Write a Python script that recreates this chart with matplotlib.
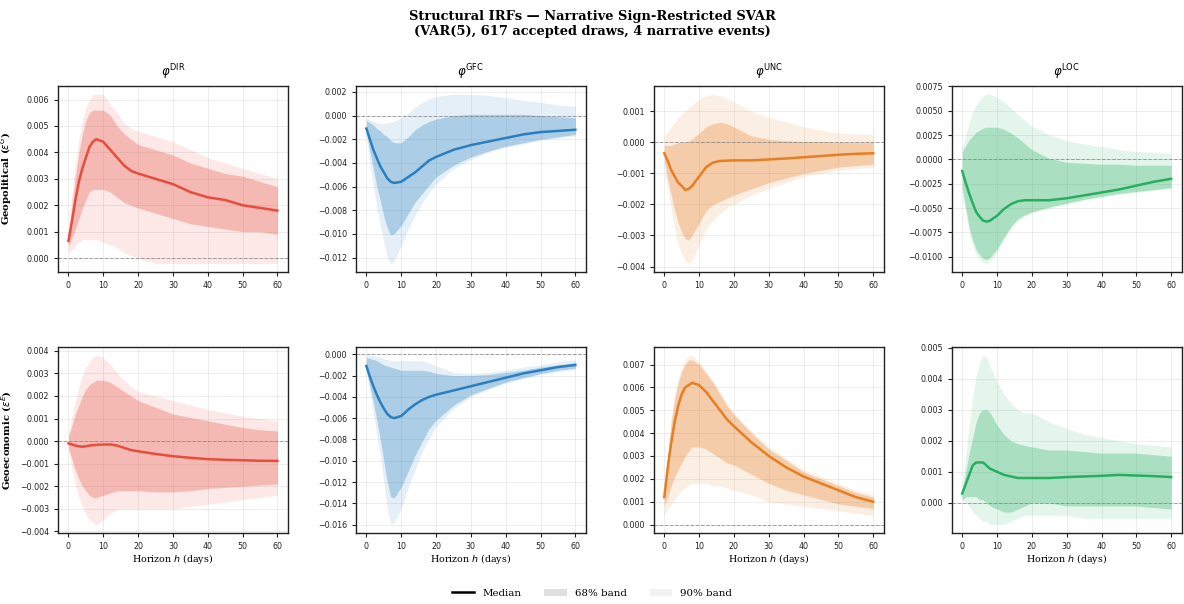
import numpy as np
import matplotlib
matplotlib.use("Agg")
import matplotlib.pyplot as plt
from matplotlib.lines import Line2D
from matplotlib.patches import Patch

H = [0, 1, 2, 3, 4, 5, 6, 7, 8, 10, 12, 14, 16, 18, 20, 25, 30, 35, 40, 45, 50, 55, 60]

# --- Geopolitical shock ---
geo_dir_med = [0.00065, 0.0014, 0.0022, 0.0029, 0.0034, 0.0038, 0.0042, 0.0044, 0.0045, 0.0044, 0.0041, 0.0038, 0.0035, 0.0033, 0.0032, 0.0030, 0.0028, 0.0025, 0.0023, 0.0022, 0.0020, 0.0019, 0.0018]
geo_dir_hi68 = [0.0008, 0.0020, 0.0031, 0.0040, 0.0047, 0.0052, 0.0055, 0.0056, 0.0056, 0.0056, 0.0054, 0.0050, 0.0047, 0.0045, 0.0043, 0.0041, 0.0039, 0.0036, 0.0034, 0.0032, 0.0031, 0.0029, 0.0027]
geo_dir_lo68 = [0.0004, 0.0008, 0.0011, 0.0015, 0.0019, 0.0022, 0.0025, 0.0026, 0.0026, 0.0026, 0.0025, 0.0023, 0.0021, 0.0020, 0.0019, 0.0017, 0.0015, 0.0013, 0.0012, 0.0011, 0.0010, 0.0010, 0.0009]
geo_dir_hi90 = [0.0011, 0.0024, 0.0036, 0.0045, 0.0052, 0.0057, 0.0060, 0.0062, 0.0062, 0.0062, 0.0058, 0.0055, 0.0051, 0.0049, 0.0048, 0.0046, 0.0044, 0.0041, 0.0038, 0.0036, 0.0034, 0.0032, 0.0030]
geo_dir_lo90 = [0.0002, 0.0003, 0.0005, 0.0006, 0.0007, 0.0007, 0.0007, 0.0007, 0.0007, 0.0006, 0.0005, 0.0004, 0.0002, 0.0001, 0.0000, -0.0002, -0.0002, -0.0002, -0.0002, -0.0002, -0.0002, -0.0002, -0.0002]

geo_gfc_med = [-0.0011, -0.0020, -0.0029, -0.0036, -0.0043, -0.0048, -0.0053, -0.0056, -0.0057, -0.0056, -0.0052, -0.0048, -0.0043, -0.0038, -0.0035, -0.0029, -0.0025, -0.0022, -0.0019, -0.0016, -0.0014, -0.0013, -0.0012]
geo_gfc_hi68 = [-0.0004, -0.0006, -0.0008, -0.0011, -0.0013, -0.0016, -0.0018, -0.0021, -0.0023, -0.0023, -0.0018, -0.0012, -0.0008, -0.0005, -0.0003, 0.0000, 0.0001, 0.0001, 0.0001, 0.0001, 0.0000, -0.0001, -0.0002]
geo_gfc_lo68 = [-0.0014, -0.0030, -0.0045, -0.0060, -0.0072, -0.0085, -0.0095, -0.0101, -0.0100, -0.0093, -0.0083, -0.0073, -0.0066, -0.0059, -0.0052, -0.0042, -0.0035, -0.0030, -0.0026, -0.0023, -0.0020, -0.0018, -0.0016]
geo_gfc_hi90 = [-0.0002, -0.0004, -0.0005, -0.0006, -0.0007, -0.0007, -0.0006, -0.0006, -0.0005, -0.0002, 0.0002, 0.0007, 0.0011, 0.0014, 0.0016, 0.0018, 0.0018, 0.0017, 0.0015, 0.0013, 0.0011, 0.0009, 0.0008]
geo_gfc_lo90 = [-0.0018, -0.0040, -0.0060, -0.0077, -0.0092, -0.0107, -0.0120, -0.0125, -0.0123, -0.0110, -0.0096, -0.0084, -0.0074, -0.0065, -0.0058, -0.0045, -0.0037, -0.0031, -0.0027, -0.0024, -0.0021, -0.0019, -0.0017]

geo_unc_med = [-0.00035, -0.0006, -0.0009, -0.0011, -0.0013, -0.0014, -0.00153, -0.0015, -0.0014, -0.0011, -0.0008, -0.00065, -0.0006, -0.00059, -0.00058, -0.00058, -0.00055, -0.00052, -0.00048, -0.00044, -0.0004, -0.00037, -0.00035]
geo_unc_hi68 = [-0.0001, -0.0001, -0.0001, -0.00005, 0.0, 0.0, 0.0, 0.00005, 0.0001, 0.0003, 0.0005, 0.0006, 0.00065, 0.0006, 0.0005, 0.0002, 0.0001, 0.00005, 0.00003, 0.00002, 0.0, 0.0, 0.0]
geo_unc_lo68 = [-0.0006, -0.0012, -0.0017, -0.0022, -0.0026, -0.0029, -0.0031, -0.00315, -0.0030, -0.0026, -0.0022, -0.0020, -0.0019, -0.0018, -0.0017, -0.0015, -0.0013, -0.00115, -0.0010, -0.0009, -0.0008, -0.00075, -0.0007]
geo_unc_hi90 = [0.0002, 0.00035, 0.0005, 0.00065, 0.0008, 0.0009, 0.0010, 0.0011, 0.0012, 0.0014, 0.0015, 0.00155, 0.0015, 0.0014, 0.0013, 0.0010, 0.0008, 0.00065, 0.0005, 0.0004, 0.0003, 0.00027, 0.00025]
geo_unc_lo90 = [-0.0008, -0.0015, -0.0022, -0.0028, -0.0033, -0.0036, -0.0038, -0.0039, -0.0038, -0.0033, -0.0028, -0.0025, -0.0023, -0.0021, -0.0020, -0.0017, -0.0015, -0.0013, -0.0011, -0.0010, -0.0009, -0.00085, -0.0008]

geo_loc_med = [-0.0012, -0.0024, -0.0035, -0.0045, -0.0054, -0.0059, -0.0063, -0.0064, -0.0063, -0.0058, -0.0051, -0.0046, -0.0043, -0.0042, -0.0042, -0.0042, -0.0040, -0.0037, -0.0034, -0.0031, -0.0027, -0.0023, -0.0020]
geo_loc_hi68 = [0.0008, 0.0014, 0.0020, 0.0024, 0.0028, 0.0030, 0.0032, 0.0033, 0.0033, 0.0033, 0.0031, 0.0027, 0.0022, 0.0016, 0.0010, 0.0001, -0.0003, -0.0004, -0.0005, -0.0005, -0.0006, -0.0006, -0.0006]
geo_loc_lo68 = [-0.0030, -0.0050, -0.0070, -0.0083, -0.0093, -0.0098, -0.0102, -0.0103, -0.0101, -0.0092, -0.0080, -0.0069, -0.0061, -0.0057, -0.0054, -0.0049, -0.0045, -0.0041, -0.0038, -0.0035, -0.0033, -0.0031, -0.0029]
geo_loc_hi90 = [0.0012, 0.0025, 0.0038, 0.0048, 0.0056, 0.0061, 0.0065, 0.0067, 0.0067, 0.0064, 0.0059, 0.0053, 0.0046, 0.0040, 0.0034, 0.0025, 0.0019, 0.0016, 0.0013, 0.0010, 0.0008, 0.0007, 0.0006]
geo_loc_lo90 = [-0.0032, -0.0054, -0.0075, -0.0088, -0.0098, -0.0103, -0.0106, -0.0107, -0.0105, -0.0095, -0.0082, -0.0071, -0.0063, -0.0058, -0.0055, -0.0050, -0.0046, -0.0042, -0.0039, -0.0036, -0.0034, -0.0032, -0.0030]

# --- Geoeconomic shock ---
eco_dir_med = [-0.0001, -0.00015, -0.0002, -0.00023, -0.00025, -0.00023, -0.0002, -0.00018, -0.00017, -0.00015, -0.00015, -0.0002, -0.0003, -0.0004, -0.00045, -0.00057, -0.00067, -0.00074, -0.0008, -0.00083, -0.00085, -0.00087, -0.00088]
eco_dir_hi68 = [0.0002, 0.0007, 0.0012, 0.0016, 0.0020, 0.0023, 0.0025, 0.0026, 0.0027, 0.0027, 0.0026, 0.0024, 0.0022, 0.0020, 0.0018, 0.0015, 0.0012, 0.00105, 0.0009, 0.00075, 0.0006, 0.0005, 0.00045]
eco_dir_lo68 = [-0.0003, -0.0008, -0.0013, -0.0017, -0.0020, -0.0022, -0.0024, -0.0025, -0.0025, -0.0024, -0.0023, -0.0022, -0.0022, -0.0022, -0.0022, -0.00225, -0.00225, -0.0022, -0.0021, -0.00205, -0.0020, -0.00195, -0.0019]
eco_dir_hi90 = [0.0003, 0.0011, 0.0018, 0.0024, 0.0029, 0.0033, 0.0035, 0.0037, 0.0038, 0.0037, 0.0034, 0.0030, 0.0027, 0.0024, 0.0022, 0.0020, 0.0018, 0.0016, 0.0014, 0.00125, 0.0011, 0.0010, 0.0009]
eco_dir_lo90 = [-0.0004, -0.0012, -0.0019, -0.0025, -0.0029, -0.0032, -0.0035, -0.0036, -0.0037, -0.0035, -0.0032, -0.0030, -0.0030, -0.0030, -0.0030, -0.0030, -0.0030, -0.0029, -0.0028, -0.0027, -0.0026, -0.0025, -0.0024]

eco_gfc_med = [-0.0011, -0.0021, -0.0030, -0.0038, -0.0045, -0.0051, -0.0056, -0.0059, -0.0060, -0.0058, -0.0052, -0.0047, -0.0043, -0.0040, -0.0038, -0.0034, -0.0030, -0.0026, -0.0022, -0.0018, -0.0015, -0.0012, -0.0010]
eco_gfc_hi68 = [-0.0003, -0.0004, -0.0005, -0.0006, -0.0008, -0.0010, -0.0011, -0.0012, -0.0013, -0.0015, -0.0015, -0.0015, -0.0015, -0.0016, -0.0018, -0.0020, -0.0020, -0.0019, -0.0017, -0.0015, -0.0012, -0.0010, -0.0008]
eco_gfc_lo68 = [-0.0014, -0.0030, -0.0045, -0.0062, -0.0080, -0.0100, -0.0120, -0.0134, -0.0135, -0.0125, -0.0110, -0.0095, -0.0082, -0.0070, -0.0062, -0.0048, -0.0038, -0.0032, -0.0026, -0.0022, -0.0018, -0.0015, -0.0013]
eco_gfc_hi90 = [-0.0001, -0.0001, -0.0001, -0.0002, -0.0003, -0.0004, -0.0005, -0.0006, -0.0006, -0.0006, -0.0006, -0.0006, -0.0006, -0.0008, -0.0011, -0.0017, -0.0018, -0.0017, -0.0015, -0.0012, -0.0010, -0.0007, -0.0005]
eco_gfc_lo90 = [-0.0016, -0.0035, -0.0055, -0.0075, -0.0095, -0.0120, -0.0145, -0.0160, -0.0158, -0.0145, -0.0125, -0.0108, -0.0092, -0.0079, -0.0068, -0.0051, -0.0040, -0.0033, -0.0027, -0.0023, -0.0019, -0.0016, -0.0014]

eco_unc_med = [0.0012, 0.0025, 0.0036, 0.0045, 0.0052, 0.0057, 0.0060, 0.0061, 0.0062, 0.0061, 0.0058, 0.0054, 0.0050, 0.0046, 0.0043, 0.0036, 0.0030, 0.0025, 0.0021, 0.0018, 0.0015, 0.0012, 0.0010]
eco_unc_hi68 = [0.0014, 0.0030, 0.0045, 0.0055, 0.0062, 0.0067, 0.0070, 0.0072, 0.0072, 0.0070, 0.0066, 0.0062, 0.0057, 0.0052, 0.0048, 0.0040, 0.0033, 0.0028, 0.0023, 0.0020, 0.0017, 0.0014, 0.0012]
eco_unc_lo68 = [0.0008, 0.0012, 0.0017, 0.0021, 0.0024, 0.0027, 0.0030, 0.0032, 0.0034, 0.0034, 0.0033, 0.0031, 0.0029, 0.0027, 0.0026, 0.0022, 0.0018, 0.0015, 0.0013, 0.0011, 0.0009, 0.0008, 0.0007]
eco_unc_hi90 = [0.0015, 0.0032, 0.0047, 0.0057, 0.0064, 0.0069, 0.0072, 0.0074, 0.0074, 0.0071, 0.0067, 0.0063, 0.0058, 0.0053, 0.0049, 0.0041, 0.0034, 0.0029, 0.0024, 0.0021, 0.0018, 0.0015, 0.0013]
eco_unc_lo90 = [0.0004, 0.0007, 0.0009, 0.0011, 0.0013, 0.0015, 0.0016, 0.0017, 0.0018, 0.0018, 0.0018, 0.0017, 0.0017, 0.0016, 0.0015, 0.0013, 0.0010, 0.0009, 0.0008, 0.0007, 0.0006, 0.0005, 0.0004]

eco_loc_med = [0.0003, 0.0006, 0.0009, 0.0012, 0.0013, 0.0013, 0.0013, 0.0012, 0.0011, 0.0010, 0.0009, 0.00085, 0.0008, 0.0008, 0.0008, 0.0008, 0.00083, 0.00085, 0.00087, 0.0009, 0.00088, 0.00086, 0.00083]
eco_loc_hi68 = [0.0004, 0.0010, 0.0016, 0.0021, 0.0026, 0.0029, 0.0030, 0.0030, 0.0029, 0.0025, 0.0022, 0.0020, 0.0019, 0.00185, 0.0018, 0.0017, 0.0017, 0.00165, 0.0016, 0.0016, 0.0016, 0.00155, 0.0015]
eco_loc_lo68 = [0.0001, 0.0002, 0.0002, 0.0002, 0.0002, 0.0001, 0.0001, 0.0000, -0.0001, -0.0002, -0.0003, -0.0003, -0.0002, -0.0001, 0.0000, 0.0000, -0.0001, -0.0001, -0.0001, -0.0001, -0.0001, -0.00015, -0.0002]
eco_loc_hi90 = [0.0006, 0.0015, 0.0025, 0.0034, 0.0041, 0.0045, 0.00475, 0.0047, 0.0044, 0.0039, 0.0035, 0.0032, 0.0030, 0.0029, 0.0029, 0.0026, 0.0024, 0.0022, 0.0021, 0.0020, 0.0019, 0.00185, 0.0018]
eco_loc_lo90 = [0.0001, 0.0000, -0.0001, -0.0003, -0.0004, -0.0005, -0.0006, -0.0006, -0.0007, -0.0007, -0.0007, -0.0006, -0.0005, -0.0004, -0.0004, -0.0004, -0.0004, -0.0005, -0.0005, -0.0005, -0.0005, -0.0005, -0.0005]

col_titles = [r"$\varphi^{\mathrm{DIR}}$", r"$\varphi^{\mathrm{GFC}}$", r"$\varphi^{\mathrm{UNC}}$", r"$\varphi^{\mathrm{LOC}}$"]
row_labels = [r"Geopolitical ($\varepsilon^{G}$)", r"Geoeconomic ($\varepsilon^{E}$)"]
colors = ["#e74c3c", "#2a7fc0", "#e67e22", "#27ae60"]

panels = [
    [(geo_dir_med, geo_dir_lo68, geo_dir_hi68, geo_dir_lo90, geo_dir_hi90),
     (geo_gfc_med, geo_gfc_lo68, geo_gfc_hi68, geo_gfc_lo90, geo_gfc_hi90),
     (geo_unc_med, geo_unc_lo68, geo_unc_hi68, geo_unc_lo90, geo_unc_hi90),
     (geo_loc_med, geo_loc_lo68, geo_loc_hi68, geo_loc_lo90, geo_loc_hi90)],
    [(eco_dir_med, eco_dir_lo68, eco_dir_hi68, eco_dir_lo90, eco_dir_hi90),
     (eco_gfc_med, eco_gfc_lo68, eco_gfc_hi68, eco_gfc_lo90, eco_gfc_hi90),
     (eco_unc_med, eco_unc_lo68, eco_unc_hi68, eco_unc_lo90, eco_unc_hi90),
     (eco_loc_med, eco_loc_lo68, eco_loc_hi68, eco_loc_lo90, eco_loc_hi90)],
]

fig, axes = plt.subplots(2, 4, figsize=(11.84, 6.04), dpi=100)
fig.subplots_adjust(left=0.049, right=0.998, top=0.858, bottom=0.1175, wspace=0.296, hspace=0.403)

for i in range(2):
    for j in range(4):
        ax = axes[i, j]
        med, lo68, hi68, lo90, hi90 = panels[i][j]
        c = colors[j]
        ax.fill_between(H, lo90, hi90, color=c, alpha=0.12, linewidth=0)
        ax.fill_between(H, lo68, hi68, color=c, alpha=0.30, linewidth=0)
        ax.plot(H, med, color=c, linewidth=1.8)
        ax.axhline(0, color="gray", linestyle="--", linewidth=0.7, alpha=0.7)
        ax.grid(True, color="#dddddd", linewidth=0.6, alpha=0.6)
        ax.set_axisbelow(True)
        ax.tick_params(labelsize=5.7, length=3, width=0.8, colors="#222222")
        ax.set_xticks([0, 10, 20, 30, 40, 50, 60])
        for s in ax.spines.values():
            s.set_linewidth(1.0)
            s.set_color("#222222")
        if i == 0:
            ax.set_title(col_titles[j], fontsize=8.5, pad=7)
        else:
            ax.set_xlabel("Horizon $h$ (days)", family="DejaVu Serif", fontsize=6.8, labelpad=1)
        if j == 0:
            ax.set_ylabel(row_labels[i], family="DejaVu Serif", fontweight="bold", fontsize=7.2)
            ax.yaxis.set_label_coords(-0.19, 0.5)

fig.suptitle("Structural IRFs — Narrative Sign-Restricted SVAR\n(VAR(5), 617 accepted draws, 4 narrative events)",
             family="DejaVu Serif", fontweight="bold", fontsize=9.4, y=0.983)

handles = [Line2D([0], [0], color="black", linewidth=1.8),
           Patch(facecolor="gray", alpha=0.25, edgecolor="none"),
           Patch(facecolor="gray", alpha=0.10, edgecolor="none")]
fig.legend(handles, ["Median", "68% band", "90% band"], loc="lower center", ncol=3,
           frameon=False, prop={"family": "DejaVu Serif", "size": 7.4}, bbox_to_anchor=(0.5, -0.005),
           columnspacing=2.2, handlelength=2.2)

fig.savefig("out.png", dpi=100)
